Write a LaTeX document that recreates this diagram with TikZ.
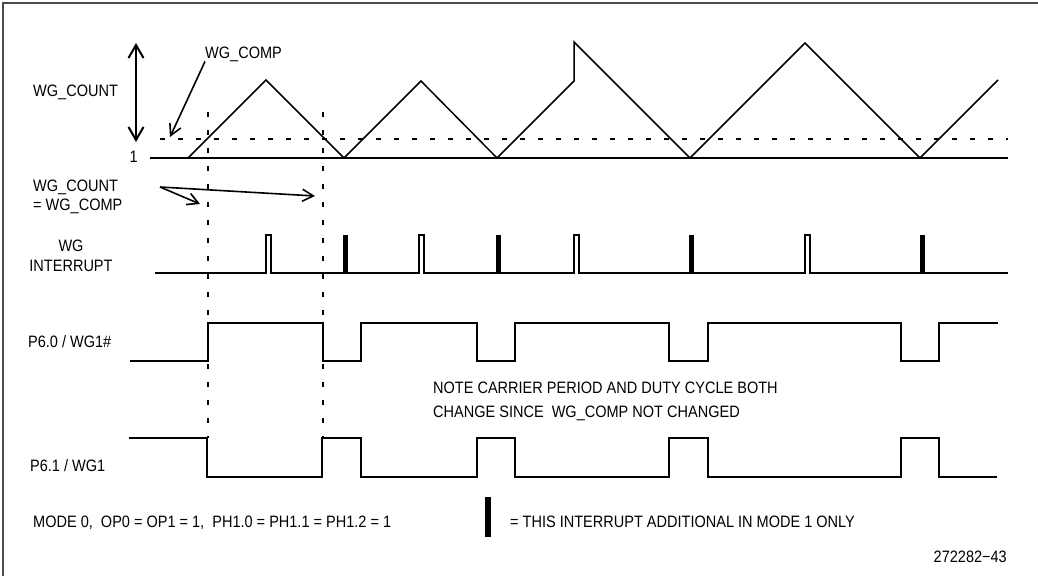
\documentclass[tikz,border=0pt]{standalone}
\usepackage{fontspec}
\setmainfont{Liberation Sans}[FakeStretch=0.88]
\usetikzlibrary{arrows.meta}

\begin{document}
\begin{tikzpicture}[
    x=1pt, y=-1pt,
    txt/.style={inner sep=0pt, font=\fontsize{16.5}{20}\selectfont},
    wave/.style={line width=1.5pt},
    guide/.style={line width=1.3pt, dash pattern=on 5pt off 13pt},
    frame/.style={draw=black!70, line width=2pt},
    ptr/.style={-{Straight Barb[length=11pt,width=12pt]}, line width=1.6pt},
    span/.style={{Straight Barb[length=13pt,width=15pt]}-{Straight Barb[length=13pt,width=15pt]}, line width=2pt}
]
    \useasboundingbox (0,0) rectangle (1038,576);
    \draw[frame] (3,576) -- (3,3) -- (1038,3);

    % Labels
    \node[txt, anchor=base west] (count) at (33,96) {WG\_COUNT};
    \node[txt, anchor=base east] (one) at (138,162) {1};
    \node[txt, anchor=base west] (comp) at (205,58) {WG\_COMP};
    \node[txt, anchor=base west] (eqa) at (33,191) {WG\_COUNT};
    \node[txt, anchor=base west] (eqb) at (33,210) {= WG\_COMP};
    \node[txt, align=center] (intr) at (71,256) {WG\\INTERRUPT};
    \node[txt, anchor=base west] (p60) at (28,347) {P6.0 / WG1\#};
    \node[txt, anchor=base west] (p61) at (30,471) {P6.1 / WG1};
    \node[txt, align=left, anchor=west, font=\fontsize{16.5}{24}\selectfont] (note) at (433,401)
        {NOTE CARRIER PERIOD AND DUTY CYCLE BOTH\\CHANGE SINCE\ \ WG\_COMP NOT CHANGED};
    \node[txt, anchor=base west] (mode) at (33,527) {MODE 0,\ \ OP0 = OP1 = 1,\ \ PH1.0 = PH1.1 = PH1.2 = 1};
    \node[fill, minimum width=6pt, minimum height=40pt, inner sep=0pt] (bar) at (488,517) {};
    \node[txt, anchor=base west] (key) at (510,527) {= THIS INTERRUPT ADDITIONAL IN MODE 1 ONLY};
    \node[txt, anchor=base east] (fig) at (1007,562) {272282−43};

    % Arrows
    \coordinate (ctop) at (136,43);
    \coordinate (cbot) at (136,142);
    \draw[span] (ctop) -- (cbot);
    \coordinate (cmp) at (170,137);
    \draw[ptr] (comp.south west) -- (cmp);
    \coordinate (eqsrc) at (160,187);
    \coordinate (hita) at (200,204);
    \coordinate (hitb) at (315,196);
    \draw[ptr] (eqsrc) -- (hita);
    \draw[ptr] (eqsrc) -- (hitb);

    % WG_COUNT ramp
    \draw[wave] (150,158) -- (1008,158);
    \draw[guide] (160,139) -- (1008,139);
    \draw[wave] (188,158) -- (266,80) -- (344,158) -- (421,81) -- (497,158) -- (574,81) -- (574,42)
        -- (690,158) -- (805,43) -- (920,158) -- (998,80);
    \foreach \x in {208,323} \draw[guide] (\x,112) -- (\x,438);

    % WG interrupt
    \draw[wave] (155,273) -- (266,273) -- (266,235) -- (271,235) -- (271,273) -- (419,273) -- (419,235)
        -- (424,235) -- (424,273) -- (574,273) -- (574,235) -- (579,235) -- (579,273) -- (805,273)
        -- (805,235) -- (810,235) -- (810,273) -- (1008,273);
    \foreach \x in {343,496,689,920} \fill (\x,235) rectangle ++(5,38);

    % Outputs
    \draw[wave] (130,361) -| (208,323) -| (323,361) -| (361,323) -| (477,361) -| (515,323) -| (669,361)
        -| (708,323) -| (901,361) -| (939,323) -- (998,323);
    \draw[wave] (129,438) -| (207,477) -| (322,438) -| (361,477) -| (477,438) -| (515,477) -| (669,438)
        -| (708,477) -| (901,438) -| (939,477) -- (997,477);
\end{tikzpicture}
\end{document}
